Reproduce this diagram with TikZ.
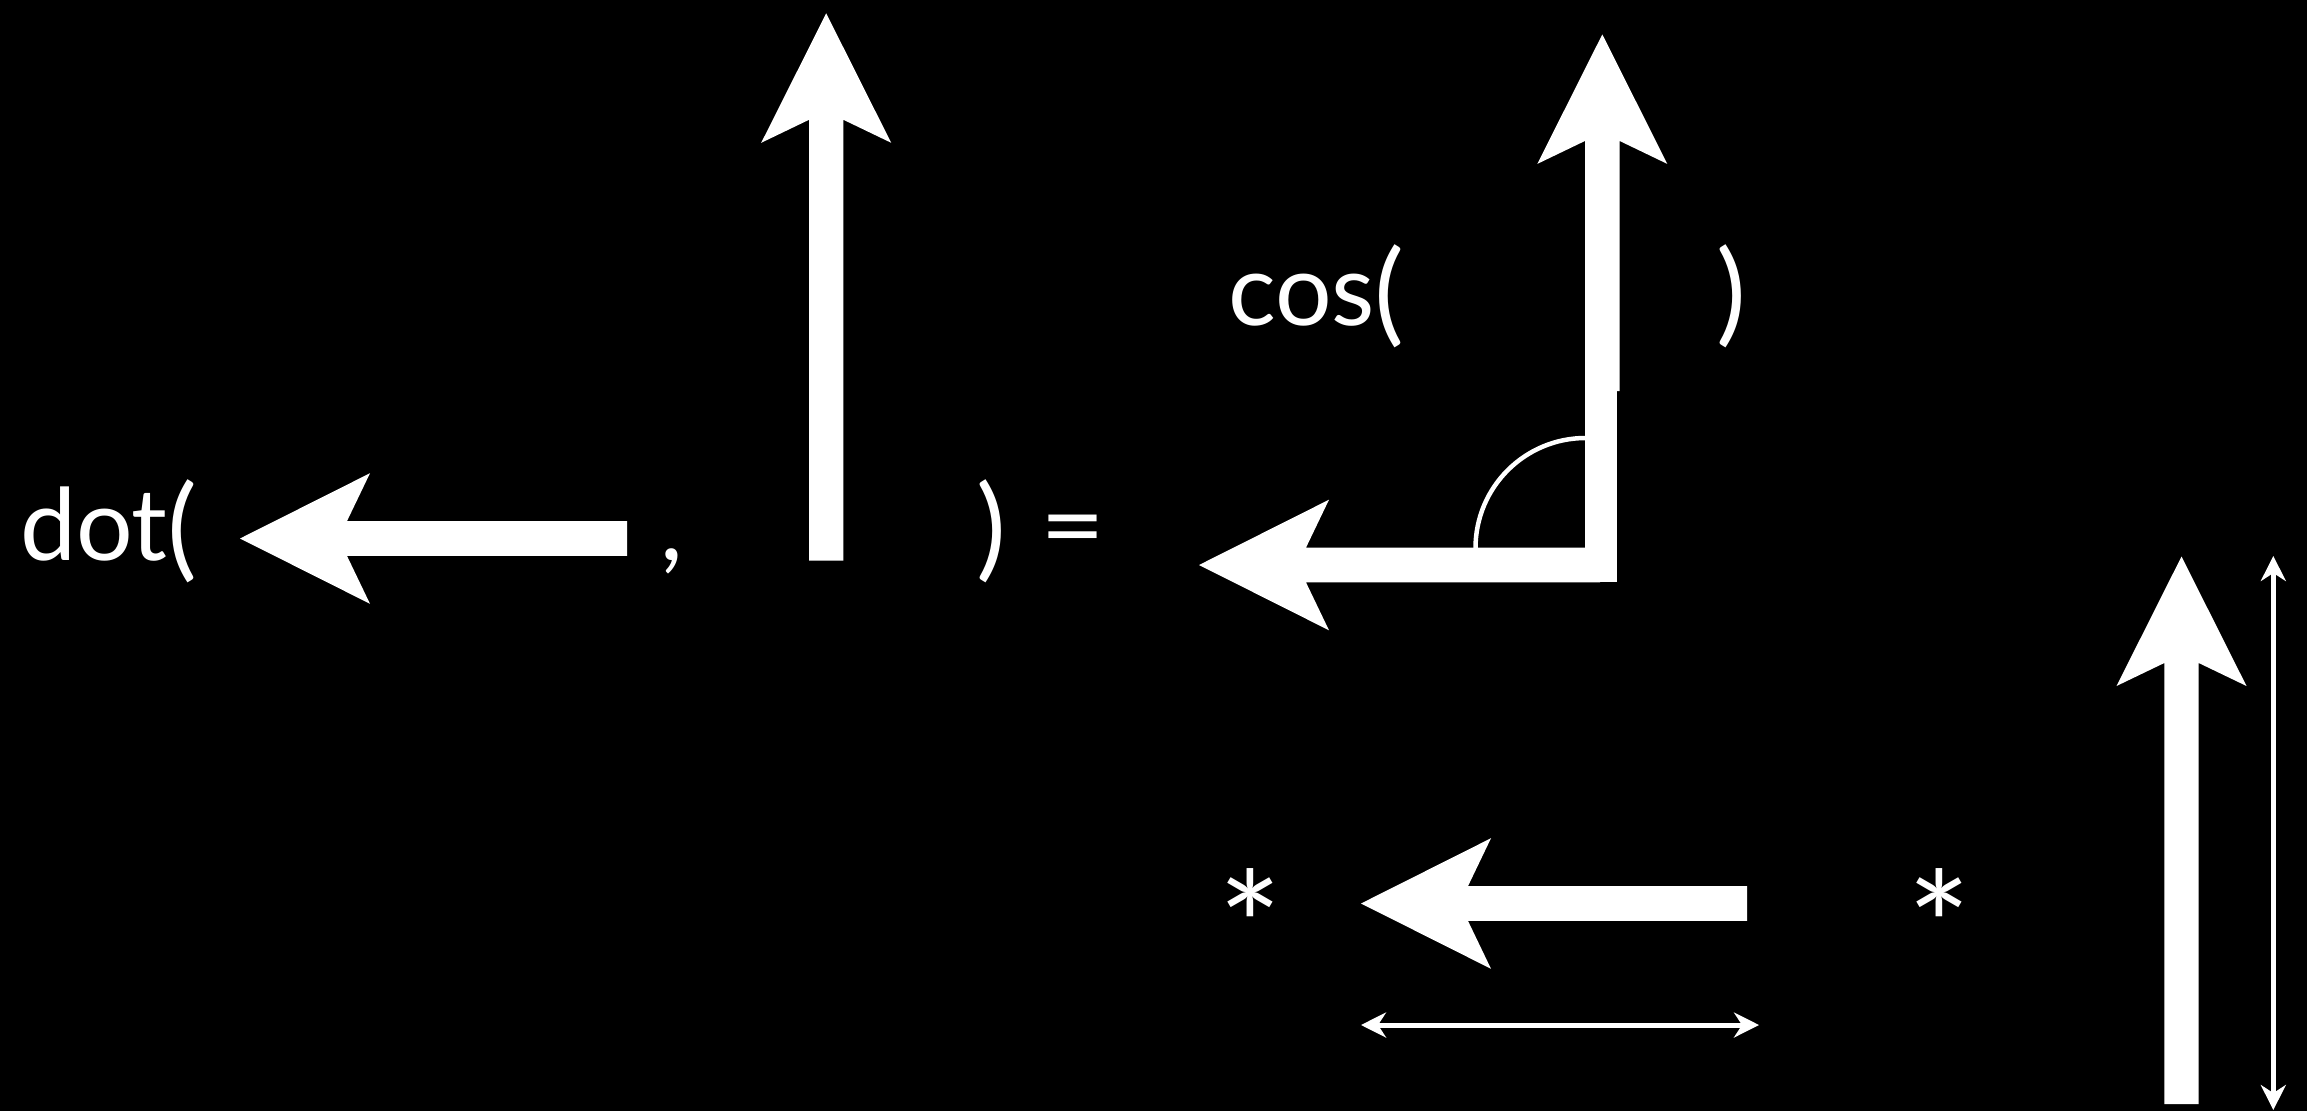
\documentclass[tikz,border=0pt]{standalone}
\usepackage{fontspec}
\setmainfont{Lato}
\usetikzlibrary{arrows.meta}
% left-pointing fat arrow: tip x, tip y, tail x
\newcommand\fatleftarrow[3]{%
  \fill[fatfill] (#1,#2) -- ({#1+130},{#2-65.3}) -- ({#1+107},{#2-17.4})
    -- (#3,{#2-17.4}) -- (#3,{#2+17.4}) -- ({#1+107},{#2+17.4})
    -- ({#1+130},{#2+65.3}) -- cycle;}
% up-pointing fat arrow: tip x, tip y, bottom y
\newcommand\fatuparrow[3]{%
  \fill[fatfill] (#1,#2) -- ({#1+65},{#2+129.5}) -- ({#1+17.2},{#2+106.5})
    -- ({#1+17.2},#3) -- ({#1-17.2},#3) -- ({#1-17.2},{#2+106.5})
    -- ({#1-65},{#2+129.5}) -- cycle;}
% taller parentheses, as in the reference
\newcommand\bigparen[1]{\raisebox{-6pt}{\fontsize{112}{120}\selectfont #1}}
\begin{document}
\begin{tikzpicture}[x=1pt,y=-1pt,
  txt/.style={text=white, inner sep=0pt, outer sep=0pt,
    font=\fontsize{100}{120}\selectfont},
  startxt/.style={text=white, inner sep=0pt, outer sep=0pt,
    font=\fontsize{150}{160}\selectfont, anchor=base},
  fatfill/.style={fill=white, draw=none},
  thinarrow/.style={draw=white, line width=5pt,
    {Stealth[length=25pt,width=25pt,inset=8pt]}-{Stealth[length=25pt,width=25pt,inset=8pt]}},
  anglearc/.style={draw=white, line width=4.5pt}]
\fill[black] (0,0) rectangle (2307,1111);
\useasboundingbox (0,0) rectangle (2307,1111);

% row 1: dot( <- , ^ ) =
\node[txt, anchor=base west] (dot) at (20,560) {dot\bigparen{(}};
\fatleftarrow{240}{538.5}{627}
\node[txt, anchor=base west] (comma) at (660,560) {,};
\fatuparrow{826.2}{13.3}{560.7}
\node[txt, anchor=base west] (rp1) at (976,560) {\bigparen{)}};
\node[txt, anchor=base west] (eq) at (1040,560) {\scalebox{1.12}[1]{=}};

% cos( angle )
\node[txt, anchor=base west] (cos) at (1228,325) {cos\bigparen{(}};
\node[txt, anchor=base west] (rp2) at (1716,325) {\bigparen{)}};
\draw[anglearc] (1585.5,438) arc[start angle=-90, end angle=-180, radius=110];
\fatleftarrow{1199}{565}{1600}
\fatuparrow{1602.3}{34.4}{391}
\fill[fatfill] (1585.1,390) rectangle (1617.3,581.7);

% row 3: * <- * ^
\node[startxt] (st1) at (1250.5,981) {*};
\fatleftarrow{1361}{903.5}{1747}
\node[startxt] (st2) at (1939,981) {*};
\fatuparrow{2181.5}{556.5}{1104}

% thin length arrows
\coordinate (hA) at (1361,1025);
\coordinate (hB) at (1759,1025);
\draw[thinarrow] (hA) -- (hB);
\coordinate (vA) at (2273.3,556);
\coordinate (vB) at (2273.3,1110);
\draw[thinarrow] (vA) -- (vB);
\end{tikzpicture}
\end{document}
